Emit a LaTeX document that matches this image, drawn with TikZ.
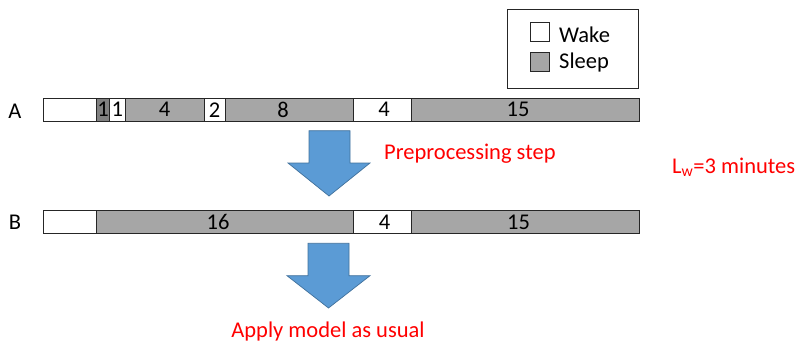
\documentclass[tikz,border=0pt]{standalone}
\usepackage{fontspec}
\setmainfont{Carlito}
\definecolor{sleepgray}{HTML}{A6A6A6}
\definecolor{darkgray1}{HTML}{808080}
\definecolor{arrowblue}{HTML}{5B9BD5}
\definecolor{arrowedge}{HTML}{41719C}
\definecolor{txtred}{HTML}{FF0000}
\begin{document}
\begin{tikzpicture}[x=1pt,y=-1pt,font=\fontsize{22.5}{27}\selectfont,
  seg/.style={draw=black!85,line width=0.8pt,minimum height=22.5pt,inner sep=0pt,outer sep=0pt,anchor=west},
  wake/.style={seg,fill=white},
  sleep/.style={seg,fill=sleepgray},
  sleepdark/.style={seg,fill=darkgray1},
  bigarrow/.style={fill=arrowblue,draw=arrowedge,line width=0.7pt,line join=miter},
  note/.style={text=txtred,inner sep=0pt},
  rowlabel/.style={inner sep=0pt},
  legendsq/.style={draw=black!85,line width=0.8pt,minimum width=19pt,minimum height=19pt,inner sep=0pt}]
\useasboundingbox (0,0) rectangle (795,346);

% Row A
\node[rowlabel] (labA) at (15,111) {A};
\node[wake,minimum width=53.7pt] (a0) at (43,109.75) {};
\node[sleepdark,minimum width=12.8pt] (a1) at (96.7,109.75) {1};
\node[wake,minimum width=15.5pt] (a2) at (109.5,109.75) {1};
\node[sleep,minimum width=79pt] (a3) at (125,109.75) {4};
\node[wake,minimum width=21pt] (a4) at (204,109.75) {2};
\node[sleep,minimum width=128pt] (a5) at (225,109.75) {\hspace*{-12pt}8};
\node[wake,minimum width=58pt] (a6) at (353,109.75) {\hspace*{4pt}4};
\node[sleep,minimum width=228pt] (a7) at (411,109.75) {\hspace*{-14pt}15};

% Row B
\node[rowlabel] (labB) at (15,222) {B};
\node[wake,minimum width=53pt] (b0) at (43.5,222) {};
\node[sleep,minimum width=257pt] (b1) at (96.5,222) {\hspace*{-14pt}16};
\node[wake,minimum width=58pt] (b2) at (353.5,222) {\hspace*{4pt}4};
\node[sleep,minimum width=228pt] (b3) at (411.5,222) {\hspace*{-14pt}15};

% Arrows
\draw[bigarrow] (309,130.7) -- (350,130.7) -- (350,163) -- (370,163) -- (329,196)
  -- (288,163) -- (309,163) -- cycle;
\draw[bigarrow] (308,243.3) -- (349,243.3) -- (349,275.7) -- (370,275.7) -- (328.5,308)
  -- (287,275.7) -- (308,275.7) -- cycle;

% Texts
\node[note,anchor=west] (prep) at (384,154) {Preprocessing step};
\node[note,anchor=west] (lw) at (672,167) {L\textsubscript{w}=3 minutes};
\node[note] (apply) at (328,331) {Apply model as usual};

% Legend
\node[draw=black!85,line width=0.8pt,minimum width=131pt,minimum height=79pt,anchor=north west,inner sep=0pt] (legend) at (507,9) {};
\node[legendsq,fill=white] (wsq) at (539.5,31.5) {};
\node[legendsq,fill=sleepgray] (ssq) at (539.5,62) {};
\node[anchor=west,inner sep=0pt] (wtxt) at (559,35) {Wake};
\node[anchor=west,inner sep=0pt] (stxt) at (559,62) {Sleep};
\end{tikzpicture}
\end{document}
